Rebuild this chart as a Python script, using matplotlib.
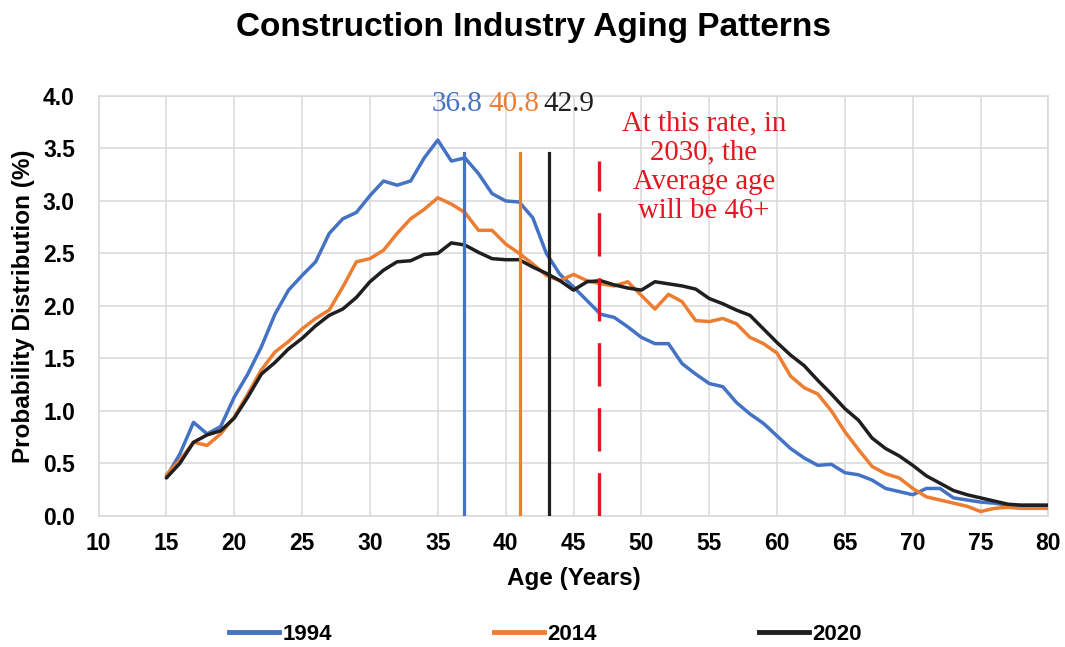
import matplotlib
matplotlib.use("Agg")
import matplotlib.pyplot as plt
from matplotlib.lines import Line2D

ages = list(range(15, 81))

dist_1994 = [0.37, 0.59, 0.89, 0.78, 0.85, 1.13, 1.35, 1.61, 1.92, 2.15,
             2.29, 2.42, 2.69, 2.83, 2.89, 3.05, 3.19, 3.15, 3.19, 3.41,
             3.58, 3.38, 3.41, 3.26, 3.07, 3.00, 2.99, 2.84, 2.50, 2.30,
             2.18, 2.05, 1.92, 1.89, 1.80, 1.70, 1.64, 1.64, 1.45, 1.35,
             1.26, 1.23, 1.08, 0.97, 0.88, 0.76, 0.64, 0.55, 0.48, 0.49,
             0.41, 0.39, 0.34, 0.26, 0.23, 0.20, 0.26, 0.26, 0.17, 0.15,
             0.13, 0.12, 0.10, 0.10, 0.10, 0.10]

dist_2014 = [0.39, 0.53, 0.70, 0.67, 0.78, 0.94, 1.16, 1.39, 1.56, 1.66,
             1.78, 1.88, 1.96, 2.18, 2.42, 2.45, 2.53, 2.69, 2.83, 2.92,
             3.03, 2.97, 2.89, 2.72, 2.72, 2.59, 2.50, 2.40, 2.29, 2.24,
             2.30, 2.24, 2.21, 2.19, 2.23, 2.10, 1.97, 2.11, 2.04, 1.86,
             1.85, 1.88, 1.83, 1.70, 1.64, 1.55, 1.33, 1.22, 1.16, 1.00,
             0.80, 0.63, 0.47, 0.40, 0.36, 0.26, 0.18, 0.15, 0.12, 0.09,
             0.04, 0.07, 0.08, 0.07, 0.07, 0.07]

dist_2020 = [0.36, 0.50, 0.70, 0.77, 0.81, 0.93, 1.13, 1.35, 1.46, 1.59,
             1.69, 1.81, 1.91, 1.97, 2.08, 2.23, 2.34, 2.42, 2.43, 2.49,
             2.50, 2.60, 2.58, 2.51, 2.45, 2.44, 2.44, 2.37, 2.31, 2.24,
             2.15, 2.23, 2.24, 2.20, 2.17, 2.15, 2.23, 2.21, 2.19, 2.16,
             2.07, 2.02, 1.96, 1.91, 1.78, 1.65, 1.53, 1.43, 1.29, 1.16,
             1.02, 0.91, 0.74, 0.64, 0.57, 0.48, 0.38, 0.31, 0.24, 0.20,
             0.17, 0.14, 0.11, 0.10, 0.10, 0.10]

series_labels = ["1994", "2014", "2020"]
series_colors = ["#4472C4", "#ED7D31", "#1F1F1F"]

avg_line_x = [36.95, 41.05, 43.2]
avg_line_top = 3.46
avg_labels = ["36.8", "40.8", "42.9"]
avg_label_x = [36.42, 40.62, 44.67]
avg_label_y = 3.855

proj_x = 46.85
proj_top = 3.38
proj_text = "At this rate, in\n2030, the\nAverage age\nwill be 46+"
red = "#E3171F"

fig = plt.figure(figsize=(10.65, 6.47), dpi=100)
ax = fig.add_axes([0.0925, 0.2029, 0.892, 0.6487])

ax.set_xlim(10, 80)
ax.set_ylim(0, 4.0)
ax.set_xticks(range(10, 81, 5))
ax.set_yticks([i * 0.5 for i in range(9)])
ax.set_yticklabels([f"{i * 0.5:.1f}" for i in range(9)])
ax.grid(True, color="#D9D9D9", linewidth=1.1)
ax.set_axisbelow(True)
for s in ax.spines.values():
    s.set_color("#D9D9D9")
    s.set_linewidth(1.1)
ax.tick_params(length=0, labelsize=16.5)
ax.tick_params(axis="x", pad=12)
ax.tick_params(axis="y", pad=17)
for lab in ax.get_xticklabels() + ax.get_yticklabels():
    lab.set_fontfamily("Liberation Sans")
    lab.set_fontweight("bold")

for data, c in zip([dist_1994, dist_2014, dist_2020], series_colors):
    ax.plot(ages, data, color=c, linewidth=2.5, solid_joinstyle="round",
            solid_capstyle="round", zorder=3)

for x, c in zip(avg_line_x, series_colors):
    ax.plot([x, x], [0, avg_line_top], color=c, linewidth=2.3, zorder=4)

ax.plot([proj_x, proj_x], [0, proj_top], color=red, linewidth=2.4,
        dashes=(13, 6.5), zorder=4)

for lx, lab, c in zip(avg_label_x, avg_labels, series_colors):
    ax.text(lx, avg_label_y, lab, color=c, ha="center", va="baseline",
            fontsize=21, family="Liberation Serif", zorder=5)

ax.text(54.6, 3.86, proj_text, color=red, ha="center", va="top",
        fontsize=20.7, family="Liberation Serif", linespacing=1.15, zorder=5)

ax.set_xlabel("Age (Years)", fontsize=17.5, fontweight="bold",
              family="Liberation Sans", labelpad=8)
ax.set_ylabel("Probability Distribution (%)", fontsize=17.5, fontweight="bold",
              family="Liberation Sans", labelpad=6)

fig.text(533 / 1065, 1 - 36 / 647, "Construction Industry Aging Patterns",
         ha="center", va="baseline", fontsize=24, fontweight="bold",
         family="Liberation Sans")

handles = [Line2D([], [], color=c, linewidth=3.5) for c in series_colors]
leg = fig.legend(handles, series_labels, loc="center",
                 bbox_to_anchor=(545.5 / 1065, 1 - 634 / 647), ncol=3,
                 frameon=False, handlelength=2.25, handletextpad=0.15,
                 columnspacing=7.3,
                 prop={"family": "Liberation Sans", "weight": "bold", "size": 16})

fig.savefig("out.png", dpi=100)
